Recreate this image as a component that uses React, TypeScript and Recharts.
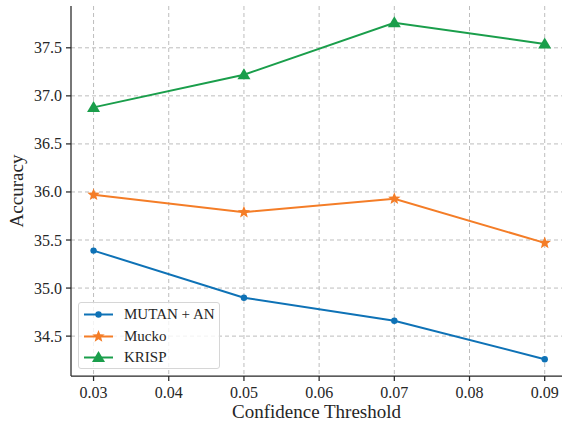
import React from "react";
import { LineChart, Line, XAxis, YAxis, CartesianGrid } from "recharts";

const thresholds = [0.03, 0.05, 0.07, 0.09];
const mutanAn = [35.39, 34.9, 34.66, 34.26];
const mucko = [35.97, 35.79, 35.93, 35.47];
const krisp = [36.88, 37.22, 37.76, 37.54];

const xTicks = [0.03, 0.04, 0.05, 0.06, 0.07, 0.08, 0.09];
const yTicks = [34.5, 35.0, 35.5, 36.0, 36.5, 37.0, 37.5];

const SERIES = [
  { key: "mutan", name: "MUTAN + AN", color: "#0e72b6", marker: "circle" },
  { key: "mucko", name: "Mucko", color: "#f47d27", marker: "star" },
  { key: "krisp", name: "KRISP", color: "#1a9e4b", marker: "triangle" },
];

const data = thresholds.map((t, i) => ({
  t,
  mutan: mutanAn[i],
  mucko: mucko[i],
  krisp: krisp[i],
}));

const FONT = '"Times New Roman", "Liberation Serif", Times, serif';
const AXIS = "#262626";

function starPath(cx: number, cy: number, ro: number, ri: number) {
  let d = "";
  for (let k = 0; k < 10; k++) {
    const r = k % 2 === 0 ? ro : ri;
    const a = -Math.PI / 2 + (k * Math.PI) / 5;
    d += (k === 0 ? "M" : "L") + (cx + r * Math.cos(a)).toFixed(2) + "," + (cy + r * Math.sin(a)).toFixed(2);
  }
  return d + "Z";
}

function Marker({ cx, cy, kind, color }: { cx: number; cy: number; kind: string; color: string }) {
  if (kind === "circle") return <circle cx={cx} cy={cy} r={3.2} fill={color} />;
  if (kind === "star") return <path d={starPath(cx, cy, 6.5, 2.8)} fill={color} />;
  return <path d={`M${cx},${cy - 6.5}L${cx + 6.5},${cy + 4.5}L${cx - 6.5},${cy + 4.5}Z`} fill={color} />;
}

function makeDot(kind: string, color: string) {
  return (props: any) => {
    const { cx, cy, index } = props;
    if (cx == null || cy == null) return <g key={index} />;
    return (
      <g key={index}>
        <Marker cx={cx} cy={cy} kind={kind} color={color} />
      </g>
    );
  };
}

const XTick = (props: any) => {
  const { x, y, payload } = props;
  return (
    <text x={x} y={y + 14} textAnchor="middle" fontSize={16} fill={AXIS} style={{ fontFamily: FONT }}>
      {Number(payload.value).toFixed(2)}
    </text>
  );
};

const YTick = (props: any) => {
  const { x, y, payload } = props;
  return (
    <text x={x} y={y + 5.5} textAnchor="end" fontSize={16} fill={AXIS} style={{ fontFamily: FONT }}>
      {Number(payload.value).toFixed(1)}
    </text>
  );
};

function LegendBox() {
  return (
    <div
      style={{
        position: "absolute",
        left: 78,
        top: 302,
        width: 142,
        height: 67,
        boxSizing: "border-box",
        background: "rgba(255,255,255,0.8)",
        border: "1px solid #d6d6d6",
        borderRadius: 3,
        fontFamily: FONT,
        fontSize: 15,
        color: "#262626",
      }}
    >
      {SERIES.map((s, i) => (
        <div
          key={s.key}
          style={{ position: "absolute", left: 0, top: 1 + i * 21.5, height: 21, display: "flex", alignItems: "center" }}
        >
          <svg width={40} height={21} style={{ display: "block" }}>
            <line x1={5} y1={10.5} x2={34} y2={10.5} stroke={s.color} strokeWidth={2} />
            <Marker cx={19.5} cy={10.5} kind={s.marker} color={s.color} />
          </svg>
          <span style={{ marginLeft: 5, whiteSpace: "nowrap" }}>{s.name}</span>
        </div>
      ))}
    </div>
  );
}

export default function App() {
  return (
    <div style={{ position: "absolute", left: 0, top: 0, width: 562, height: 421, background: "#fff", fontFamily: FONT }}>
      <LineChart
        width={562}
        height={421}
        data={data}
        margin={{ top: 6, right: 0, bottom: 0, left: 0 }}
        style={{ fontFamily: FONT }}
      >
        <CartesianGrid
          stroke="#bdbdbd"
          strokeDasharray="4 3"
          strokeWidth={1}
          horizontalValues={yTicks}
          verticalValues={xTicks}
        />
        <XAxis
          dataKey="t"
          type="number"
          domain={[0.027, 0.0923]}
          ticks={xTicks}
          height={45}
          tick={<XTick />}
          tickSize={5}
          tickMargin={3}
          axisLine={{ stroke: AXIS, strokeWidth: 1.25 }}
          tickLine={{ stroke: AXIS, strokeWidth: 1.25 }}
          label={{
            value: "Confidence Threshold",
            position: "insideBottom",
            offset: 3,
            style: { fontSize: 19, fill: AXIS, fontFamily: FONT },
          }}
        />
        <YAxis
          type="number"
          domain={[34.085, 37.935]}
          ticks={yTicks}
          width={71}
          tick={<YTick />}
          tickSize={5}
          tickMargin={4}
          axisLine={{ stroke: AXIS, strokeWidth: 1.25 }}
          tickLine={{ stroke: AXIS, strokeWidth: 1.25 }}
          label={{
            value: "Accuracy",
            angle: -90,
            position: "insideLeft",
            offset: 16,
            style: { fontSize: 19, fill: AXIS, fontFamily: FONT, textAnchor: "middle" },
          }}
        />
        {SERIES.map((s) => (
          <Line
            key={s.key}
            dataKey={s.key}
            name={s.name}
            stroke={s.color}
            strokeWidth={2}
            dot={makeDot(s.marker, s.color)}
            activeDot={false}
            isAnimationActive={false}
          />
        ))}
      </LineChart>
      <LegendBox />
    </div>
  );
}
